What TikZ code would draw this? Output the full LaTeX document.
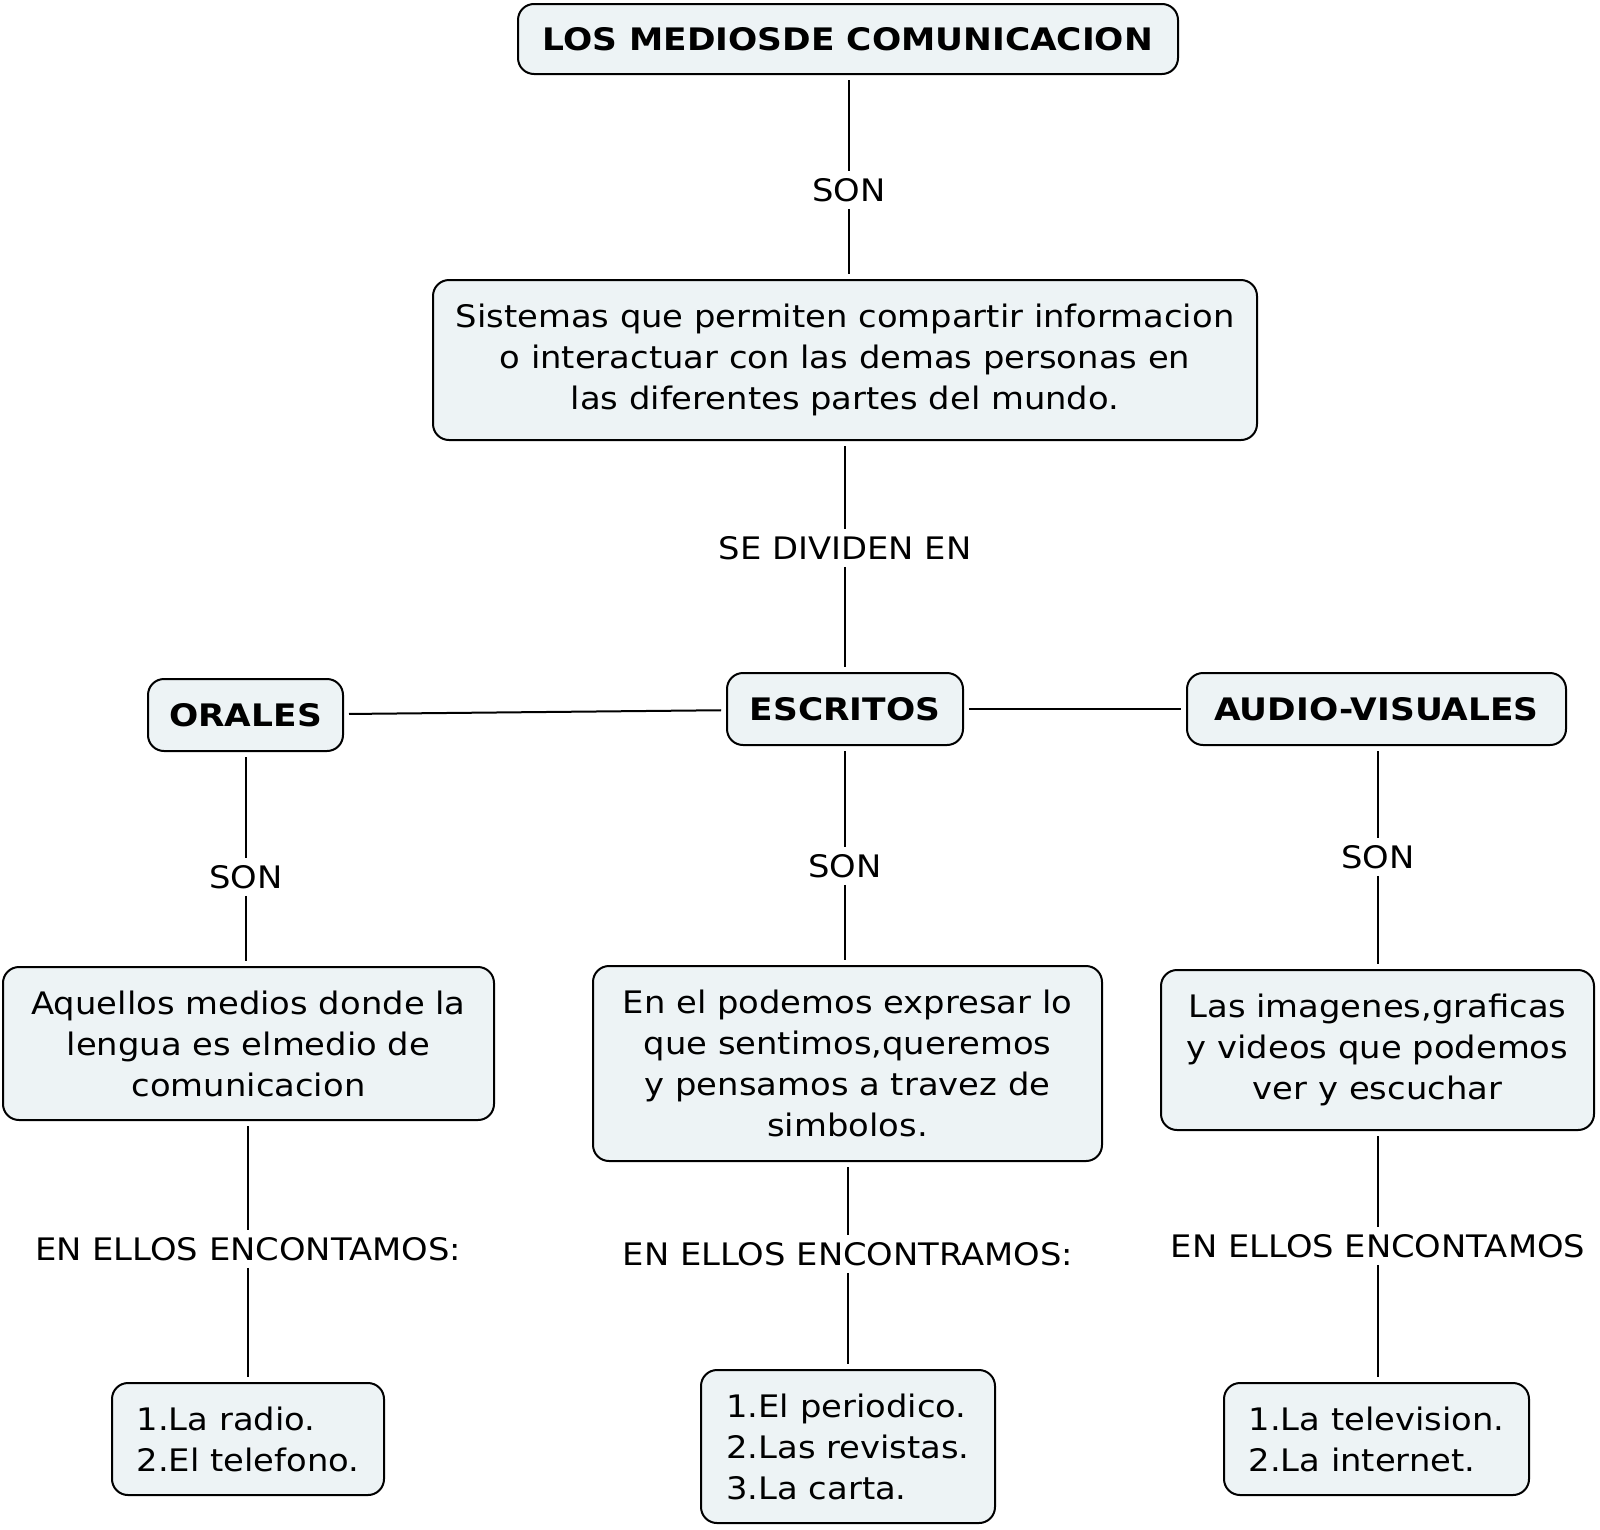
\documentclass[tikz,border=0pt]{standalone}
\usepackage{fontspec}
\setmainfont[FakeStretch=1.09,BoldFeatures={FakeStretch=1.11}]{DejaVu Sans}
\definecolor{boxfill}{HTML}{EDF3F5}
\begin{document}
\begin{tikzpicture}[x=1pt,y=-1pt,
  box/.style={draw=black,line width=2pt,fill=boxfill,rounded corners=16pt,inner sep=0pt,align=center,font=\fontsize{31}{41}\selectfont},
  boldbox/.style={box,font=\fontsize{31}{41}\selectfont\bfseries},
  lbl/.style={inner sep=7pt,font=\fontsize{31}{41}\selectfont},
  conn/.style={line width=2pt,shorten <=5pt,shorten >=5pt},
  lconn/.style={line width=2pt}]
\useasboundingbox (0,0) rectangle (1600,1529);
\fill[white] (0,0) rectangle (1600,1529);
% boxes
\node[boldbox,minimum width=660pt,minimum height=70pt] (title) at (848,39) {LOS MEDIOSDE COMUNICACION};
\node[box,minimum width=824pt,minimum height=160pt] (sis) at (845,360) {Sistemas que permiten compartir informacion\\o interactuar con las demas personas en\\las diferentes partes del mundo.};
\node[boldbox,minimum width=236pt,minimum height=72pt] (esc) at (845,709) {ESCRITOS};
\node[boldbox,minimum width=195pt,minimum height=72pt] (ora) at (245.5,715) {ORALES};
\node[boldbox,minimum width=379pt,minimum height=72pt] (aud) at (1376.5,709) {AUDIO-VISUALES};
\node[box,minimum width=491pt,minimum height=153pt] (aqu) at (248.5,1043.5) {Aquellos medios donde la\\lengua es elmedio de\\comunicacion};
\node[box,minimum width=509pt,minimum height=195pt] (pod) at (847.5,1063.5) {En el podemos expresar lo\\que sentimos,queremos\\y pensamos a travez de\\simbolos.};
\node[box,minimum width=433pt,minimum height=160pt] (ima) at (1377.5,1050) {Las imagenes,graficas\\y videos que podemos\\ver y escuchar};
\node[box,align=left,minimum width=272pt,minimum height=112pt] (rad) at (248,1439) {1.La radio.\\2.El telefono.};
\node[box,align=left,minimum width=294pt,minimum height=153pt] (per) at (848,1446.5) {1.El periodico.\\2.Las revistas.\\3.La carta.};
\node[box,align=left,minimum width=305pt,minimum height=112pt] (tv) at (1376.5,1439) {1.La television.\\2.La internet.};
% labels
\node[lbl] (l1) at (849,190) {SON};
\node[lbl] (l2) at (845,548) {SE DIVIDEN EN};
\node[lbl] (l3) at (246,877) {SON};
\node[lbl] (l4) at (845,866) {SON};
\node[lbl] (l5) at (1378,857) {SON};
\node[lbl] (l6) at (248,1249) {EN ELLOS ENCONTAMOS:};
\node[lbl] (l7) at (848,1254) {EN ELLOS ENCONTRAMOS:};
\node[lbl] (l8) at (1378,1246) {EN ELLOS ENCONTAMOS};
% connectors
\draw[conn,shorten >=0pt] (title.south -| l1) -- (l1);
\draw[conn,shorten <=0pt] (l1) -- (l1 |- sis.north);
\draw[conn,shorten >=0pt] (sis.south -| l2) -- (l2);
\draw[conn,shorten <=0pt] (l2) -- (l2 |- esc.north);
\draw[conn] (ora) -- (esc);
\draw[conn] (esc) -- (aud);
\draw[conn,shorten >=0pt] (ora.south -| l3) -- (l3);
\draw[conn,shorten <=0pt] (l3) -- (l3 |- aqu.north);
\draw[conn,shorten >=0pt] (esc.south -| l4) -- (l4);
\draw[conn,shorten <=0pt] (l4) -- (l4 |- pod.north);
\draw[conn,shorten >=0pt] (aud.south -| l5) -- (l5);
\draw[conn,shorten <=0pt] (l5) -- (l5 |- ima.north);
\draw[conn,shorten >=0pt] (aqu.south -| l6) -- (l6);
\draw[conn,shorten <=0pt] (l6) -- (l6 |- rad.north);
\draw[conn,shorten >=0pt] (pod.south -| l7) -- (l7);
\draw[conn,shorten <=0pt] (l7) -- (l7 |- per.north);
\draw[conn,shorten >=0pt] (ima.south -| l8) -- (l8);
\draw[conn,shorten <=0pt] (l8) -- (l8 |- tv.north);
\end{tikzpicture}
\end{document}
